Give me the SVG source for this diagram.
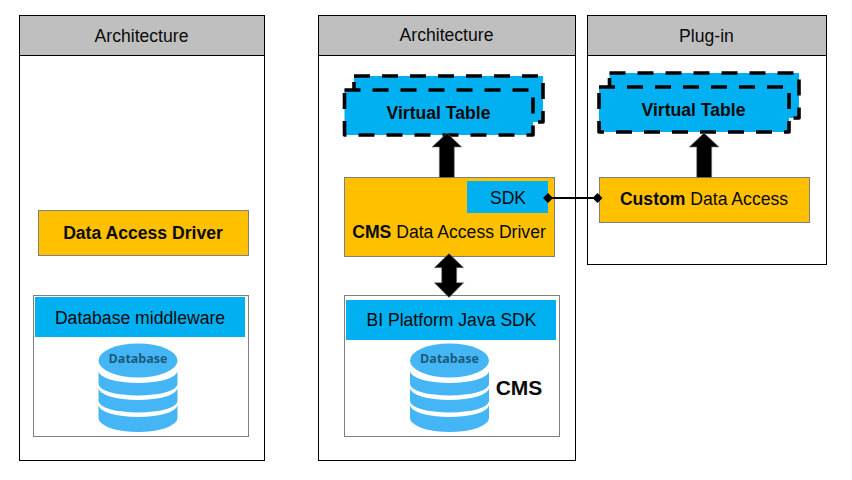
<svg xmlns="http://www.w3.org/2000/svg" width="852" height="480" viewBox="0 0 852 480">
<style>
text{font-family:"Liberation Sans",Arial,sans-serif;font-size:17.6px;fill:#0a0a0a;text-anchor:middle}
.b{font-weight:700}
.panel{fill:#fff;stroke:#000;stroke-width:1}
.head{fill:#bfbfbf;stroke:#000;stroke-width:1}
.or{fill:#ffc000;stroke:#7f7f7f;stroke-width:1}
.bl{fill:#00b0f0}
.box{fill:#fff;stroke:#7f7f7f;stroke-width:1}
.dash{fill:#00b0f0;stroke:#000;stroke-width:3.6;stroke-dasharray:16 12;stroke-linejoin:round}
.arrow{fill:#000;stroke:#7f7f7f;stroke-width:.6}
.db{fill:#45b6f5}
.dbt{font-family:"Open Sans",sans-serif;font-size:12.5px;font-weight:700;fill:#1b5a7d}
.conn{stroke:#000;stroke-width:2;fill:none;marker-start:url(#dia);marker-end:url(#dia)}
</style>
<defs>
<marker id="dia" markerUnits="userSpaceOnUse" markerWidth="10" markerHeight="10" refX="5" refY="5" orient="auto"><path d="M0 5L5 0L10 5L5 10Z" fill="#000"/></marker>
<g id="cyl">
<path class="db" d="M-39.500 28v13a39.500 11.500 0 0 0 79 0v-13a39.500 12 0 0 1-79 0Z"/>
<path class="db" d="M-39.500 45v13a39.500 11.500 0 0 0 79 0v-13a39.500 12 0 0 1-79 0Z"/>
<path class="db" d="M-39.500 62v13a39.500 14 0 0 0 79 0v-13a39.500 12 0 0 1-79 0Z"/>
<ellipse class="db" cx="0" cy="17.500" rx="39.500" ry="17"/>
<text class="dbt" x="0" y="20">Database</text>
</g>
</defs>

<g id="panel-left">
<rect class="panel" x="19.500" y="15.500" width="245" height="445"/>
<rect class="head" x="19.500" y="15.500" width="245" height="40"/>
<text x="141.500" y="41.500">Architecture</text>
</g>
<g id="panel-middle">
<rect class="panel" x="318.500" y="15.500" width="257" height="445"/>
<rect class="head" x="318.500" y="15.500" width="257" height="40"/>
<text x="446.500" y="40.500">Architecture</text>
</g>
<g id="panel-right">
<rect class="panel" x="587.500" y="15.500" width="239" height="249"/>
<rect class="head" x="587.500" y="15.500" width="239" height="40"/>
<text x="706.500" y="41.500">Plug-in</text>
</g>

<g id="data-access-driver">
<rect class="or" x="38.500" y="210.500" width="210" height="45"/>
<text class="b" x="143" y="238.500">Data Access Driver</text>
</g>
<g id="database-left">
<rect class="box" x="33.500" y="295.500" width="215" height="141"/>
<rect class="bl" x="35" y="297" width="210" height="40"/>
<text x="140" y="323.500">Database middleware</text>
<use href="#cyl" x="138" y="343"/>
</g>

<g id="virtual-table-middle">
<rect class="dash" x="354" y="76" width="189" height="46"/>
<rect class="dash" x="344.500" y="90" width="188.500" height="45"/>
<text class="b" x="438.500" y="119">Virtual Table</text>
</g>
<g id="cms-driver">
<rect class="or" x="344.500" y="177.500" width="210" height="79"/>
<text x="449" y="238"><tspan class="b">CMS</tspan> Data Access Driver</text>
</g>
<g id="sdk">
<rect class="bl" x="467" y="181" width="81" height="32"/>
<text x="508" y="204">SDK</text>
</g>
<g id="database-cms">
<rect class="box" x="344.500" y="295.500" width="215" height="141"/>
<rect class="bl" x="346" y="300" width="210" height="40"/>
<text x="451.500" y="326">BI Platform Java SDK</text>
<use href="#cyl" x="449.500" y="343"/>
<text class="b" x="519" y="394.500" style="font-size:21px">CMS</text>
</g>

<g id="virtual-table-right">
<rect class="dash" x="609.500" y="73" width="189.500" height="45"/>
<rect class="dash" x="599" y="87" width="190" height="45"/>
<text class="b" x="693.500" y="116">Virtual Table</text>
</g>
<g id="custom-data-access">
<rect class="or" x="599.500" y="177.500" width="210" height="45"/>
<text x="704" y="205"><tspan class="b">Custom</tspan> Data Access</text>
</g>

<g id="connectors">
<path class="arrow" d="M447 133L461.700 147H454.300V177.500H439.300V147H432Z"/>
<path class="arrow" d="M704 133L719 147H711.700V177.500H696.700V147H689.300Z"/>
<path class="arrow" d="M449 253.500L463.700 267.700H456.700V282.700H463.700L449 297.500L434.300 282.700H441.700V267.700H434.300Z"/>
<path class="conn" d="M548 198H597.500"/>
</g>
</svg>
